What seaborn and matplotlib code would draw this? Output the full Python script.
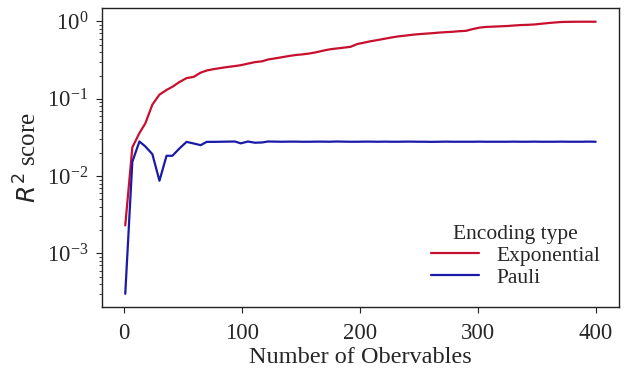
import matplotlib
matplotlib.use("Agg")
import matplotlib.pyplot as plt
import seaborn as sns
import pandas as pd

n_obs = [1, 7, 13, 18, 24, 30, 36, 41, 47, 53, 59, 65, 70, 76, 82, 88, 94, 99, 105, 111,
         117, 122, 128, 134, 140, 146, 151, 157, 163, 169, 174, 180, 186, 192, 198, 203, 209, 215, 221, 227,
         232, 238, 244, 250, 255, 261, 267, 273, 279, 284, 290, 296, 302, 307, 313, 319, 325, 331, 336, 342,
         348, 354, 360, 365, 371, 377, 383, 388, 394, 400]

exponential = [0.0023, 0.0235, 0.036, 0.048, 0.084, 0.113, 0.130, 0.143, 0.165, 0.185,
               0.192, 0.218, 0.232, 0.242, 0.250, 0.258, 0.265, 0.272, 0.285, 0.298,
               0.305, 0.322, 0.333, 0.345, 0.358, 0.369, 0.375, 0.385, 0.400, 0.420,
               0.435, 0.447, 0.458, 0.470, 0.512, 0.530, 0.555, 0.575, 0.598, 0.622,
               0.640, 0.655, 0.672, 0.686, 0.695, 0.705, 0.718, 0.728, 0.737, 0.748,
               0.757, 0.800, 0.835, 0.850, 0.858, 0.866, 0.874, 0.888, 0.898, 0.905,
               0.915, 0.935, 0.955, 0.970, 0.985, 0.990, 0.992, 0.993, 0.993, 0.993]

pauli = [0.0003, 0.0153, 0.028, 0.0242, 0.0192, 0.0087, 0.0183, 0.0183, 0.0228, 0.0277,
         0.0264, 0.0251, 0.0277, 0.0277, 0.0278, 0.0279, 0.0280, 0.0265, 0.0280, 0.0270,
         0.0272, 0.0280, 0.0279, 0.0278, 0.0279, 0.0279, 0.0278, 0.0278, 0.0279, 0.0279,
         0.0278, 0.0280, 0.0279, 0.0278, 0.0278, 0.0279, 0.0279, 0.0278, 0.0279, 0.0278,
         0.0278, 0.0279, 0.0279, 0.0278, 0.0278, 0.0277, 0.0278, 0.0279, 0.0278, 0.0278,
         0.0278, 0.0278, 0.0279, 0.0278, 0.0278, 0.0278, 0.0278, 0.0279, 0.0278, 0.0278,
         0.0279, 0.0278, 0.0278, 0.0278, 0.0279, 0.0278, 0.0278, 0.0278, 0.0279, 0.0278]

series_names = ["Exponential", "Pauli"]
colors = ["#c8102e", "#1a1aa8"]

df = pd.DataFrame({
    "Number of Obervables": n_obs * 2,
    "R2": exponential + pauli,
    "Encoding type": [series_names[0]] * len(n_obs) + [series_names[1]] * len(n_obs),
})

sns.set_theme(style="ticks")
plt.rcParams["font.family"] = ["Liberation Serif", "DejaVu Serif"]
plt.rcParams["mathtext.fontset"] = "stix"

fig = plt.figure(figsize=(6.28, 3.69), dpi=100)
ax = fig.add_axes([0.162, 0.167, 0.824, 0.811])

sns.lineplot(data=df, x="Number of Obervables", y="R2", hue="Encoding type",
             palette=dict(zip(series_names, colors)), linewidth=1.6, ax=ax)
ax.set_yscale("log")
ax.set_xticks([0, 100, 200, 300, 400])
ax.tick_params(axis="both", which="major", length=4.5, width=0.8, color="#222222")
ax.tick_params(axis="x", which="major", labelsize=16.5, pad=7)
ax.tick_params(axis="y", which="major", labelsize=16.5, pad=5)
ax.tick_params(axis="y", which="minor", length=2.5, width=0.6, color="#222222")
ax.set_xlabel("Number of Obervables", fontsize=17.5, labelpad=2)
ax.set_ylabel("$R^2$ score", fontsize=18, math_fontfamily="dejavusans")
for s in ax.spines.values():
    s.set_color("#222222")
    s.set_linewidth(1.0)

leg = ax.legend(title="Encoding type", frameon=False, loc="lower right",
                fontsize=15.5, title_fontsize=15.5, handlelength=2.2,
                borderaxespad=0.5, labelspacing=0.1, handletextpad=0.8)

fig.savefig("out.png", dpi=100)
